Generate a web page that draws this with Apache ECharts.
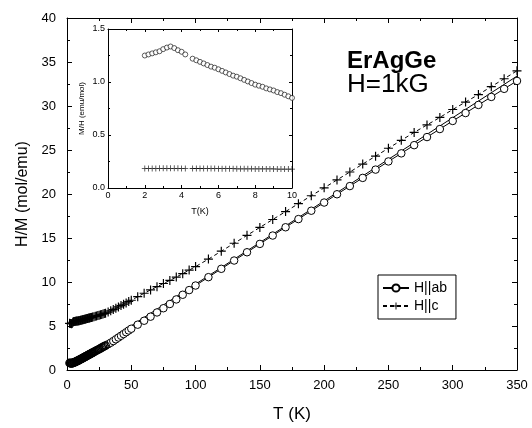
<!DOCTYPE html>
<html>
<head>
<meta charset="utf-8">
<script src="https://cdn.jsdelivr.net/npm/echarts@6/dist/echarts.min.js"></script>
<style>
  html, body { margin: 0; padding: 0; background: #fff; }
  #chart { width: 532px; height: 428px; }
</style>
</head>
<body>
<div id="chart"></div>
<script>
// Inverse susceptibility H/M (mol/emu) of ErAgGe vs temperature, H = 1 kG
const abT = [2, 2.5, 3, 3.5, 4, 4.5, 5, 5.5, 6, 6.5, 7, 7.5, 8, 8.5, 9, 9.5, 10,
  10.5, 11, 11.5, 12, 12.5, 13, 13.5, 14, 14.5, 15, 15.5, 16, 16.5, 17, 17.5, 18, 18.5, 19, 19.5, 20,
  21, 22, 23, 24, 25, 26, 27, 28, 29, 30,
  32, 34, 36, 38, 40, 42, 44, 46, 48, 50,
  55, 60, 65, 70, 75, 80, 85, 90, 95, 100,
  110, 120, 130, 140, 150, 160, 170, 180, 190, 200, 210, 220, 230, 240, 250,
  260, 270, 280, 290, 300, 310, 320, 330, 340, 350];
const abHM = [0.80, 0.79, 0.77, 0.75, 0.77, 0.81, 0.84, 0.86, 0.89, 0.92, 0.95, 0.99, 1.03, 1.06, 1.10, 1.14, 1.18,
  1.22, 1.26, 1.30, 1.34, 1.38, 1.42, 1.46, 1.50, 1.54, 1.58, 1.62, 1.66, 1.70, 1.74, 1.78, 1.82, 1.86, 1.90, 1.94, 1.98,
  2.06, 2.14, 2.22, 2.30, 2.38, 2.46, 2.54, 2.62, 2.70, 2.78,
  2.93, 3.10, 3.29, 3.49, 3.69, 3.89, 4.09, 4.29, 4.49, 4.69,
  5.15, 5.60, 6.06, 6.54, 7.02, 7.50, 8.02, 8.55, 9.08, 9.60,
  10.55, 11.50, 12.44, 13.38, 14.33, 15.28, 16.22, 17.15, 18.10, 19.03, 19.97, 20.90, 21.83, 22.77, 23.70,
  24.62, 25.55, 26.47, 27.38, 28.30, 29.20, 30.12, 31.03, 31.95, 32.85];

const cT = [2, 2.5, 3, 3.5, 4, 4.5, 5, 5.5, 6, 6.5, 7, 7.5, 8, 8.5, 9, 9.5, 10,
  10.5, 11, 11.5, 12, 12.5, 13, 13.5, 14, 14.5, 15, 15.5, 16, 16.5, 17, 17.5, 18, 18.5, 19, 19.5, 20,
  21, 22, 23, 24, 25, 26, 27, 28, 29, 30,
  32, 34, 36, 38, 40, 42, 44, 46, 48, 50,
  55, 60, 65, 70, 75, 80, 85, 90, 95, 100,
  110, 120, 130, 140, 150, 160, 170, 180, 190, 200, 210, 220, 230, 240, 250,
  260, 270, 280, 290, 300, 310, 320, 330, 340, 350];
const cHM = [5.30, 5.28, 5.27, 5.26, 5.28, 5.42, 5.48, 5.50, 5.52, 5.53, 5.55, 5.56, 5.57, 5.58, 5.59, 5.61, 5.62,
  5.64, 5.66, 5.68, 5.70, 5.72, 5.74, 5.76, 5.78, 5.80, 5.82, 5.84, 5.86, 5.88, 5.90, 5.92, 5.94, 5.96, 5.98, 6.00, 6.02,
  6.06, 6.10, 6.14, 6.18, 6.22, 6.27, 6.31, 6.36, 6.41, 6.46,
  6.58, 6.72, 6.87, 7.02, 7.17, 7.32, 7.47, 7.62, 7.78, 7.93,
  8.33, 8.72, 9.10, 9.47, 9.83, 10.18, 10.56, 10.95, 11.35, 11.75,
  12.60, 13.50, 14.40, 15.30, 16.20, 17.10, 18.00, 18.90, 19.80, 20.70, 21.60, 22.50, 23.40, 24.30, 25.20,
  26.10, 27.00, 27.85, 28.70, 29.60, 30.45, 31.30, 32.20, 33.10, 34.00];

// Curie-Weiss line drawn along the H||ab data
const fitT = [0, 350];
const fitHM = [0.3, 33.4];

// Low-temperature M/H (emu/mol) shown in the inset
const insAbT = [2.0, 2.2, 2.4, 2.6, 2.8, 3.0, 3.2, 3.4, 3.6, 3.8, 4.0, 4.2,
  4.6, 4.8, 5.0, 5.2, 5.4, 5.6, 5.8, 6.0, 6.2, 6.4, 6.6, 6.8, 7.0, 7.2, 7.4, 7.6, 7.8,
  8.0, 8.2, 8.4, 8.6, 8.8, 9.0, 9.2, 9.4, 9.6, 9.8, 10.0];
const insAbMH = [1.25, 1.26, 1.27, 1.28, 1.29, 1.31, 1.325, 1.335, 1.32, 1.30, 1.285, 1.26,
  1.22, 1.205, 1.19, 1.175, 1.16, 1.145, 1.135, 1.12, 1.105, 1.09, 1.075, 1.06, 1.05, 1.035, 1.02, 1.005, 0.99,
  0.975, 0.965, 0.955, 0.94, 0.93, 0.92, 0.905, 0.895, 0.88, 0.865, 0.85];
const insCT = insAbT.slice();
const insCMH = [0.185, 0.185, 0.185, 0.185, 0.186, 0.186, 0.186, 0.186, 0.186, 0.186, 0.185, 0.185,
  0.184, 0.184, 0.184, 0.183, 0.183, 0.183, 0.183, 0.182, 0.182, 0.182, 0.182, 0.182, 0.181, 0.181, 0.181, 0.181, 0.181,
  0.180, 0.180, 0.180, 0.180, 0.180, 0.180, 0.179, 0.179, 0.179, 0.179, 0.179];

const mainXTicks = { min: 0, max: 350, interval: 50 };
const mainYTicks = { min: 0, max: 40, interval: 5 };
const insXTicks = { min: 0, max: 10, interval: 2 };
const insYTicks = { min: 0, max: 1.5, interval: 0.5 };

const zip = (xs, ys) => xs.map((x, i) => [x, ys[i]]);
const FONT = '"Liberation Sans", Arial, Helvetica, sans-serif';
const PLUS = 'path://M0,4.35H10V5.65H0Z M4.35,0H5.65V10H4.35Z';

// H||ab points: the closely spaced low-T run is drawn with open rings so it merges
// into a dark band; the sparser points above it keep a white face.
const abAll = zip(abT, abHM);
const abDense = abAll.filter(p => p[0] <= 30);
const abSparse = abAll.filter(p => p[0] >= 30);

function axis(opts, extra) {
  return Object.assign({
    type: 'value',
    min: opts.min, max: opts.max, interval: opts.interval,
    axisLine: { show: true, onZero: false, lineStyle: { color: '#000', width: 1 } },
    axisTick: { show: true, inside: true, length: 5, lineStyle: { color: '#000' } },
    minorTick: { show: true, splitNumber: 2, length: 3, lineStyle: { color: '#000' } },
    splitLine: { show: false },
    minorSplitLine: { show: false },
    axisLabel: { show: true, color: '#000', fontFamily: FONT, fontSize: 13 }
  }, extra);
}
const noLabel = { show: false };
const insetTick = { show: true, inside: true, length: 3, lineStyle: { color: '#000' } };
const insetMinor = { show: true, splitNumber: 2, length: 2, lineStyle: { color: '#000' } };

const chart = echarts.init(document.getElementById('chart'), null, { renderer: 'canvas' });
chart.setOption({
  backgroundColor: '#fff',
  animation: false,
  grid: [
    { left: 67, top: 18, width: 450, height: 352 },
    { left: 108, top: 29, width: 184, height: 159 }
  ],
  xAxis: [
    axis(mainXTicks, { gridIndex: 0, position: 'bottom', name: 'T (K)', nameLocation: 'middle', nameGap: 36,
      nameTextStyle: { color: '#000', fontFamily: FONT, fontSize: 17 },
      axisLabel: { color: '#000', fontFamily: FONT, fontSize: 13, margin: 9 } }),
    axis(mainXTicks, { gridIndex: 0, position: 'top', axisLabel: noLabel }),
    axis(insXTicks, { gridIndex: 1, position: 'bottom', name: 'T(K)', nameLocation: 'middle', nameGap: 19,
      minorTick: insetMinor, axisTick: insetTick,
      nameTextStyle: { color: '#000', fontFamily: FONT, fontSize: 9 },
      axisLabel: { color: '#000', fontFamily: FONT, fontSize: 9, margin: 3 } }),
    axis(insXTicks, { gridIndex: 1, position: 'top', axisLabel: noLabel, minorTick: insetMinor, axisTick: insetTick })
  ],
  yAxis: [
    axis(mainYTicks, { gridIndex: 0, position: 'left', name: 'H/M (mol/emu)', nameLocation: 'middle', nameGap: 36,
      nameTextStyle: { color: '#000', fontFamily: FONT, fontSize: 16 },
      axisLabel: { color: '#000', fontFamily: FONT, fontSize: 13, margin: 11 } }),
    axis(mainYTicks, { gridIndex: 0, position: 'right', axisLabel: noLabel }),
    axis(insYTicks, { gridIndex: 1, position: 'left', name: 'M/H (emu/mol)', nameLocation: 'middle', nameGap: 22,
      minorTick: insetMinor, axisTick: insetTick,
      nameTextStyle: { color: '#000', fontFamily: FONT, fontSize: 8 },
      axisLabel: { color: '#000', fontFamily: FONT, fontSize: 9, margin: 3, formatter: v => v.toFixed(1) } }),
    axis(insYTicks, { gridIndex: 1, position: 'right', axisLabel: noLabel, minorTick: insetMinor, axisTick: insetTick })
  ],
  legend: {
    data: ['H||ab', 'H||c'],
    orient: 'vertical',
    left: 378, top: 275,
    padding: [6, 9, 6, 4],
    itemGap: 4,
    itemWidth: 26, itemHeight: 9,
    borderColor: '#000', borderWidth: 1, borderRadius: 0,
    backgroundColor: '#fff',
    textStyle: { color: '#000', fontFamily: FONT, fontSize: 14 }
  },
  graphic: [
    { type: 'text', left: 347, top: 49, style: { text: 'ErAgGe', fill: '#000', font: 'bold 24px ' + FONT } },
    { type: 'text', left: 347, top: 72, style: { text: 'H=1kG', fill: '#000', font: '26px ' + FONT } }
  ],
  series: [
    {
      name: 'fit', type: 'line', xAxisIndex: 0, yAxisIndex: 0,
      data: zip(fitT, fitHM), showSymbol: false, symbol: 'none', silent: true,
      lineStyle: { color: '#000', width: 1 }, z: 2
    },
    {
      name: 'H||ab', type: 'line', xAxisIndex: 0, yAxisIndex: 0,
      data: abSparse, symbol: 'circle', symbolSize: 7.5, showAllSymbol: true,
      itemStyle: { color: '#fff', borderColor: '#000', borderWidth: 1 },
      lineStyle: { color: '#000', width: 1 }, z: 3
    },
    {
      name: 'H||ab', type: 'line', xAxisIndex: 0, yAxisIndex: 0,
      data: abDense, symbol: 'circle', symbolSize: 7.5, showAllSymbol: true,
      itemStyle: { color: 'rgba(255,255,255,0)', borderColor: '#000', borderWidth: 1.2 },
      lineStyle: { color: '#000', width: 1 }, z: 3
    },
    {
      name: 'H||c', type: 'line', xAxisIndex: 0, yAxisIndex: 0,
      data: zip(cT, cHM), symbol: PLUS, symbolSize: 9, showAllSymbol: true,
      itemStyle: { color: '#000' },
      lineStyle: { color: '#000', width: 1, type: [4, 3] }, z: 3
    },
    {
      name: 'inset ab', type: 'scatter', xAxisIndex: 2, yAxisIndex: 2,
      data: zip(insAbT, insAbMH), symbol: 'circle', symbolSize: 5,
      itemStyle: { color: '#fff', borderColor: '#000', borderWidth: 0.8 }, z: 5
    },
    {
      name: 'inset c', type: 'scatter', xAxisIndex: 2, yAxisIndex: 2,
      data: zip(insCT, insCMH), symbol: PLUS, symbolSize: 6,
      itemStyle: { color: '#000' }, z: 5
    }
  ]
});
</script>
</body>
</html>
